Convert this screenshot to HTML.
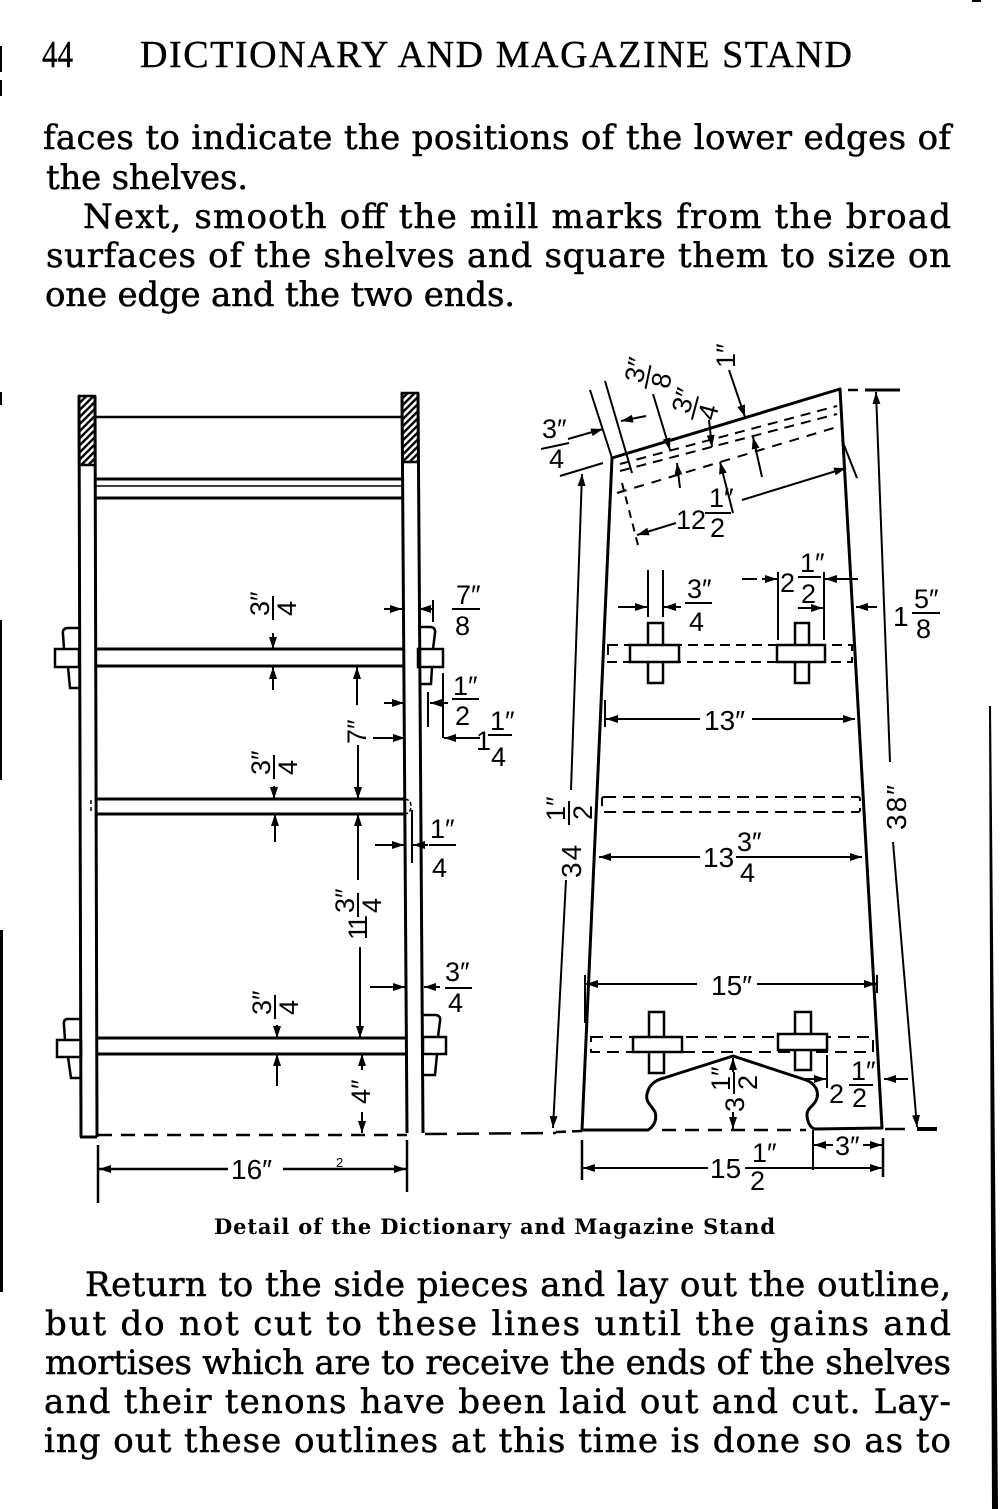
<!DOCTYPE html>
<html>
<head>
<meta charset="utf-8">
<style>
html,body{margin:0;padding:0;background:#fff;}
svg{display:block;}
.b{font-family:"DejaVu Serif","Liberation Serif",serif;font-size:34px;fill:#000;stroke:#000;stroke-width:0.5;}
.h{font-family:"Liberation Serif",serif;font-size:38px;fill:#000;stroke:#000;stroke-width:0.4;}
.c{font-family:"DejaVu Serif","Liberation Serif",serif;font-size:21px;font-weight:bold;fill:#000;}
.d{font-family:"Liberation Sans",sans-serif;font-size:27px;fill:#000;stroke:none;}
.w{font-family:"Liberation Sans",sans-serif;font-size:28px;fill:#000;stroke:none;}
</style>
</head>
<body>
<svg width="1000" height="1509" viewBox="0 0 1000 1509" xmlns="http://www.w3.org/2000/svg">
<defs>
<marker id="a" viewBox="0 0 12 8" refX="12" refY="4" markerWidth="12" markerHeight="8" markerUnits="userSpaceOnUse" orient="auto-start-reverse"><path d="M0,0 L12,4 L0,8 Z" fill="#000"/></marker>
<pattern id="hp" width="5" height="5" patternUnits="userSpaceOnUse" patternTransform="rotate(45)"><rect width="5" height="5" fill="#fff"/><rect width="2.4" height="5" fill="#000"/></pattern>
</defs>
<rect width="1000" height="1509" fill="#fff"/>

<!-- edge marks -->
<g fill="#000">
<rect x="0" y="46" width="2" height="26"/>
<rect x="0" y="80" width="2" height="16"/>
<rect x="0" y="392" width="2" height="13"/>
<rect x="0" y="620" width="2" height="160"/>
<rect x="0" y="930" width="3" height="362"/>
<rect x="972" y="0" width="9" height="2"/>
<polygon points="989,706 991,706 998,1509 992,1509"/>
</g>

<!-- header -->
<text class="h" x="42" y="67" textLength="31" lengthAdjust="spacingAndGlyphs">44</text>
<text class="h" x="140" y="67" textLength="712" lengthAdjust="spacing">DICTIONARY AND MAGAZINE STAND</text>

<!-- top body text -->
<text class="b" x="43" y="149" textLength="908" lengthAdjust="spacing">faces to indicate the positions of the lower edges of</text>
<text class="b" x="46" y="189" textLength="202" lengthAdjust="spacing">the shelves.</text>
<text class="b" x="83" y="228" textLength="868" lengthAdjust="spacing">Next, smooth off the mill marks from the broad</text>
<text class="b" x="46" y="267" textLength="905" lengthAdjust="spacing">surfaces of the shelves and square them to size on</text>
<text class="b" x="45" y="306" textLength="470" lengthAdjust="spacing">one edge and the two ends.</text>

<!-- ================= LEFT DRAWING ================= -->
<g stroke="#000" fill="none" stroke-width="3">
  <polygon points="79,396 95,396 95.2,465 79.2,465" fill="url(#hp)" stroke-width="2.5"/>
  <polygon points="402,393 418,393 418.3,462 402.3,462" fill="url(#hp)" stroke-width="2.5"/>
  <path d="M79,396 L81,1137 M95,396 L97,1137 M80,1137 L97,1137"/>
  <path d="M402,393 L407,1133 M418,393 L423,1133"/>
  <line x1="95" y1="417" x2="402" y2="417" stroke-width="2.5"/>
  <line x1="95" y1="479" x2="402" y2="479" stroke-width="3"/>
  <line x1="95" y1="486" x2="403" y2="486" stroke-width="1.5"/>
  <line x1="95" y1="498" x2="403" y2="498" stroke-width="3"/>
  <line x1="95" y1="649" x2="404" y2="649"/>
  <line x1="95" y1="666" x2="404" y2="666"/>
  <line x1="96" y1="799" x2="405" y2="799"/>
  <line x1="96" y1="814" x2="405" y2="814"/>
  <path d="M91,800 L91,814" stroke-width="1.5" stroke-dasharray="4 3"/>
  <path d="M405,799 Q411,800 411,806 Q411,813 405,814" stroke-width="1.5" stroke-dasharray="4 2"/>
  <line x1="98" y1="1038" x2="407" y2="1038"/>
  <line x1="98" y1="1054" x2="407" y2="1054"/>
  <rect x="55" y="649" width="24" height="18" stroke-width="2.5"/>
  <path d="M79,628 L67,628 Q62,629 63,634 L64,649 M68,667 L70,688 L79,688" stroke-width="2.5"/>
  <rect x="418" y="649" width="25" height="18" stroke-width="2.5"/>
  <path d="M418,627 L431,627 Q436,628 435,633 L433,649 M432,667 L431,684 L419,684" stroke-width="2.5"/>
  <rect x="57" y="1040" width="24" height="17" stroke-width="2.5"/>
  <path d="M81,1019 L67,1019 Q63,1020 64,1025 L65,1040 M68,1057 L71,1078 L81,1078" stroke-width="2.5"/>
  <rect x="423" y="1037" width="23" height="17" stroke-width="2.5"/>
  <path d="M423,1015 L436,1015 Q441,1016 440,1021 L438,1037 M437,1054 L435,1075 L424,1075" stroke-width="2.5"/>
  <line x1="98" y1="1135" x2="407" y2="1135" stroke-width="2.5" stroke-dasharray="14 9"/>
  <line x1="425" y1="1134" x2="556" y2="1133" stroke-width="2.5" stroke-dasharray="22 10"/>
  <line x1="98" y1="1145" x2="98" y2="1203" stroke-width="2.5"/>
  <line x1="407" y1="1140" x2="407" y2="1192" stroke-width="2.5"/>
  <line x1="228" y1="1169" x2="99" y2="1169" stroke-width="2.5" marker-end="url(#a)"/>
  <line x1="283" y1="1169" x2="406" y2="1169" stroke-width="2.5" marker-end="url(#a)"/>
</g>
<text class="w" x="231" y="1179">16″</text>
<text x="336" y="1167" style="font-family:'Liberation Sans',sans-serif;font-size:13px">2</text>

<g stroke="#000" fill="none" stroke-width="2">
  <line x1="273" y1="633" x2="273" y2="649" marker-end="url(#a)"/>
  <line x1="273" y1="690" x2="273" y2="667" marker-end="url(#a)"/>
  <line x1="357" y1="705" x2="357" y2="667" marker-end="url(#a)"/>
  <line x1="358" y1="745" x2="358" y2="799" marker-end="url(#a)"/>
  <line x1="274" y1="786" x2="274" y2="799" marker-end="url(#a)"/>
  <line x1="275" y1="842" x2="275" y2="814" marker-end="url(#a)"/>
  <line x1="358" y1="880" x2="358" y2="814" marker-end="url(#a)"/>
  <line x1="360" y1="947" x2="360" y2="1038" marker-end="url(#a)"/>
  <line x1="277" y1="1025" x2="277" y2="1038" marker-end="url(#a)"/>
  <line x1="277" y1="1086" x2="277" y2="1054" marker-end="url(#a)"/>
  <line x1="362" y1="1070" x2="362" y2="1054" marker-end="url(#a)"/>
  <line x1="362" y1="1112" x2="362" y2="1133" marker-end="url(#a)"/>
  <line x1="384" y1="609" x2="402" y2="609" marker-end="url(#a)"/>
  <line x1="433" y1="609" x2="419" y2="609" marker-end="url(#a)"/>
  <line x1="433" y1="600" x2="433" y2="622"/>
  <line x1="384" y1="703" x2="404" y2="703" marker-end="url(#a)"/>
  <line x1="448" y1="703" x2="430" y2="703" marker-end="url(#a)"/>
  <line x1="428" y1="692" x2="428" y2="727"/>
  <line x1="443" y1="673" x2="443" y2="738"/>
  <line x1="480" y1="738" x2="444" y2="738" marker-end="url(#a)"/>
  <line x1="373" y1="738" x2="405" y2="738" marker-end="url(#a)"/>
  <line x1="375" y1="845" x2="404" y2="845" marker-end="url(#a)"/>
  <line x1="428" y1="845" x2="413" y2="845" marker-end="url(#a)"/>
  <line x1="412" y1="810" x2="412" y2="863"/>
  <line x1="370" y1="987" x2="405" y2="987" marker-end="url(#a)"/>
  <line x1="440" y1="987" x2="424" y2="987" marker-end="url(#a)"/>
  <line x1="452" y1="609" x2="480" y2="609"/>
  <line x1="452" y1="699" x2="479" y2="699"/>
  <line x1="488" y1="735" x2="512" y2="735"/>
  <line x1="429" y1="845" x2="456" y2="845"/>
  <line x1="445" y1="988" x2="472" y2="988"/>
</g>

<text class="d" x="456" y="604">7″</text><text class="d" x="455" y="635">8</text>
<text class="d" x="453" y="695">1″</text><text class="d" x="455" y="725">2</text>
<text class="d" x="476" y="750">1</text>
<text class="d" x="490" y="730">1″</text><text class="d" x="491" y="766">4</text>
<text class="d" x="430" y="838">1″</text><text class="d" x="432" y="877">4</text>
<text class="d" x="445" y="981">3″</text><text class="d" x="448" y="1012">4</text>

<g transform="translate(273,608) rotate(-90)">
  <text class="d" x="-8" y="-4">3″</text><line x1="-12" y1="0" x2="12" y2="0" stroke="#000" stroke-width="2"/><text class="d" x="-8" y="23">4</text>
</g>
<g transform="translate(274,767) rotate(-90)">
  <text class="d" x="-8" y="-4">3″</text><line x1="-12" y1="0" x2="12" y2="0" stroke="#000" stroke-width="2"/><text class="d" x="-8" y="23">4</text>
</g>
<g transform="translate(275,1007) rotate(-90)">
  <text class="d" x="-8" y="-4">3″</text><line x1="-12" y1="0" x2="12" y2="0" stroke="#000" stroke-width="2"/><text class="d" x="-8" y="23">4</text>
</g>
<g transform="translate(357,744) rotate(-90)">
  <text class="d" x="0" y="9">7″</text>
</g>
<g transform="translate(358,940) rotate(-90)">
  <text class="d" x="0" y="9" letter-spacing="-3">11</text>
  <text class="d" x="27" y="-4">3″</text><line x1="23" y1="0" x2="47" y2="0" stroke="#000" stroke-width="2"/><text class="d" x="27" y="23">4</text>
</g>
<g transform="translate(361,1104) rotate(-90)">
  <text class="d" x="0" y="9">4″</text>
</g>

<!-- ================= RIGHT DRAWING ================= -->
<g stroke="#000" fill="none" stroke-width="3">
  <path d="M612,458 L582,1130 L648,1130 C655,1126 657,1118 655,1112 C652,1106 645,1102 647,1094 C649,1084 656,1080 664,1078 L733,1056 L806,1080 C814,1083 819,1090 817,1098 C815,1106 806,1108 807,1116 C808,1124 811,1128 815,1129 L882,1128 L840,389 Z" stroke-linejoin="round"/>
  <line x1="620" y1="464" x2="837" y2="406" stroke-width="2" stroke-dasharray="10 7"/>
  <line x1="620" y1="471" x2="837" y2="414" stroke-width="2" stroke-dasharray="10 7"/>
  <line x1="617" y1="493" x2="837" y2="427" stroke-width="2" stroke-dasharray="10 8"/>
  <rect x="608" y="645" width="244" height="17" stroke-width="2" stroke-dasharray="10 6"/>
  <rect x="648" y="623" width="15" height="60" fill="#fff" stroke-width="2.5"/>
  <rect x="630" y="645" width="49" height="17" fill="#fff" stroke-width="2.5"/>
  <rect x="795" y="623" width="14" height="60" fill="#fff" stroke-width="2.5"/>
  <rect x="777" y="645" width="48" height="17" fill="#fff" stroke-width="2.5"/>
  <rect x="602" y="797" width="258" height="15" rx="2" stroke-width="2" stroke-dasharray="12 7"/>
  <rect x="591" y="1037" width="282" height="15" stroke-width="2" stroke-dasharray="12 7"/>
  <rect x="649" y="1012" width="15" height="61" fill="#fff" stroke-width="2.5"/>
  <rect x="633" y="1037" width="49" height="15" fill="#fff" stroke-width="2.5"/>
  <rect x="795" y="1012" width="16" height="58" fill="#fff" stroke-width="2.5"/>
  <rect x="778" y="1034" width="49" height="16" fill="#fff" stroke-width="2.5"/>
  <line x1="556" y1="1132" x2="582" y2="1131" stroke-width="2.5" stroke-dasharray="10 6"/>
  <line x1="662" y1="1130" x2="806" y2="1130" stroke-width="2.5" stroke-dasharray="14 9"/>
  <line x1="885" y1="1129" x2="905" y2="1129" stroke-width="2.5"/>
  <line x1="917" y1="1129" x2="937" y2="1129" stroke-width="4"/>
</g>

<g stroke="#000" fill="none" stroke-width="2">
  <line x1="590" y1="390" x2="612" y2="458"/>
  <line x1="605" y1="381" x2="632" y2="473"/>
  <line x1="560" y1="476" x2="603" y2="463"/>
  <line x1="568" y1="439" x2="603" y2="429" marker-end="url(#a)"/>
  <line x1="541" y1="449" x2="569" y2="443"/>
  <line x1="646" y1="416" x2="621" y2="421" marker-end="url(#a)"/>
  <line x1="653" y1="394" x2="670" y2="450" marker-end="url(#a)"/>
  <line x1="729" y1="370" x2="745" y2="417" marker-end="url(#a)"/>
  <line x1="709" y1="420" x2="712" y2="447" marker-end="url(#a)"/>
  <line x1="680" y1="488" x2="677" y2="463" marker-end="url(#a)"/>
  <line x1="733" y1="513" x2="720" y2="462" marker-end="url(#a)"/>
  <line x1="762" y1="477" x2="753" y2="437" marker-end="url(#a)"/>
  <line x1="622" y1="483" x2="638" y2="545" stroke-dasharray="8 6"/>
  <line x1="676" y1="523" x2="637" y2="535" marker-end="url(#a)"/>
  <line x1="742" y1="500" x2="846" y2="468" marker-end="url(#a)"/>
  <line x1="842" y1="440" x2="857" y2="478"/>
  <line x1="705" y1="513" x2="731" y2="513"/>
  <line x1="571" y1="790" x2="582" y2="474" marker-end="url(#a)"/>
  <line x1="566" y1="880" x2="553" y2="1128" marker-end="url(#a)"/>
  <line x1="890" y1="762" x2="876" y2="392" marker-end="url(#a)"/>
  <line x1="893" y1="842" x2="917" y2="1127" marker-end="url(#a)"/>
  <line x1="865" y1="390" x2="900" y2="390" stroke-width="3"/>
  <line x1="848" y1="390" x2="858" y2="390" stroke-width="2.5"/>
  <line x1="648" y1="570" x2="648" y2="617"/>
  <line x1="663" y1="570" x2="663" y2="617"/>
  <line x1="618" y1="607" x2="647" y2="607" marker-end="url(#a)"/>
  <line x1="681" y1="607" x2="664" y2="607" marker-end="url(#a)"/>
  <line x1="685" y1="603" x2="712" y2="603"/>
  <line x1="778" y1="572" x2="778" y2="640"/>
  <line x1="824" y1="572" x2="824" y2="640"/>
  <line x1="742" y1="579" x2="757" y2="579"/>
  <line x1="762" y1="579" x2="777" y2="579" marker-end="url(#a)"/>
  <line x1="858" y1="579" x2="825" y2="579" marker-end="url(#a)"/>
  <line x1="798" y1="608" x2="823" y2="608" marker-end="url(#a)"/>
  <line x1="798" y1="577" x2="821" y2="577"/>
  <line x1="877" y1="607" x2="856" y2="607" marker-end="url(#a)"/>
  <line x1="912" y1="613" x2="940" y2="613"/>
  <line x1="605" y1="700" x2="605" y2="727"/>
  <line x1="700" y1="719" x2="606" y2="719" marker-end="url(#a)"/>
  <line x1="752" y1="719" x2="855" y2="719" marker-end="url(#a)"/>
  <line x1="700" y1="857" x2="599" y2="857" marker-end="url(#a)"/>
  <line x1="736" y1="857" x2="862" y2="857" marker-end="url(#a)"/>
  <line x1="585" y1="975" x2="585" y2="1023"/>
  <line x1="877" y1="975" x2="877" y2="993"/>
  <line x1="697" y1="984" x2="586" y2="984" marker-end="url(#a)"/>
  <line x1="757" y1="984" x2="876" y2="984" marker-end="url(#a)"/>
  <line x1="733" y1="1072" x2="733" y2="1058" marker-end="url(#a)"/>
  <line x1="733" y1="1112" x2="733" y2="1129" marker-end="url(#a)"/>
  <line x1="827" y1="1055" x2="827" y2="1088"/>
  <line x1="805" y1="1079" x2="826" y2="1079" marker-end="url(#a)"/>
  <line x1="908" y1="1079" x2="884" y2="1079" marker-end="url(#a)"/>
  <line x1="849" y1="1085" x2="873" y2="1085"/>
  <line x1="582" y1="1140" x2="582" y2="1180" stroke-width="2.5"/>
  <line x1="883" y1="1138" x2="883" y2="1177" stroke-width="2.5"/>
  <line x1="708" y1="1168" x2="583" y2="1168" marker-end="url(#a)"/>
  <line x1="745" y1="1168" x2="882" y2="1168" marker-end="url(#a)"/>
  <line x1="813" y1="1130" x2="813" y2="1170"/>
  <line x1="833" y1="1145" x2="814" y2="1145" marker-end="url(#a)"/>
  <line x1="863" y1="1145" x2="882" y2="1145" marker-end="url(#a)"/>
</g>

<text class="d" x="542" y="438">3″</text><text class="d" x="549" y="468">4</text>
<g transform="translate(648,377) rotate(-78)">
  <text class="d" x="-8" y="-4">3″</text><line x1="-12" y1="0" x2="12" y2="0" stroke="#000" stroke-width="2"/><text class="d" x="-8" y="23">8</text>
</g>
<g transform="translate(695,408) rotate(-75)">
  <text class="d" x="-8" y="-4">3″</text><line x1="-12" y1="0" x2="12" y2="0" stroke="#000" stroke-width="2"/><text class="d" x="-8" y="23">4</text>
</g>
<g transform="translate(726,368) rotate(-90)">
  <text class="d" x="0" y="9">1″</text>
</g>
<text class="d" x="676" y="529">12</text>
<text class="d" x="709" y="507">1″</text><text class="d" x="710" y="537">2</text>
<text class="d" x="687" y="598">3″</text><text class="d" x="689" y="631">4</text>
<text class="d" x="780" y="592">2</text>
<text class="d" x="800" y="572">1″</text><text class="d" x="801" y="603">2</text>
<text class="w" x="893" y="626">1</text>
<text class="d" x="914" y="608">5″</text><text class="d" x="916" y="638">8</text>
<text class="w" x="704" y="730">13″</text>
<text class="w" x="703" y="867">13</text>
<text class="d" x="737" y="851">3″</text><text class="d" x="740" y="882">4</text>
<text class="w" x="711" y="995">15″</text>
<g transform="translate(736,1112) rotate(-90)">
  <text class="d" x="0" y="8">3</text>
  <text class="d" x="21" y="-6">1″</text><line x1="18" y1="-2" x2="40" y2="-2" stroke="#000" stroke-width="2"/><text class="d" x="22" y="21">2</text>
</g>
<text class="d" x="829" y="1103">2</text>
<text class="d" x="851" y="1080">1″</text><text class="d" x="852" y="1107">2</text>
<text class="w" x="710" y="1178">15</text>
<text class="d" x="752" y="1162">1″</text><text class="d" x="750" y="1190">2</text>
<text class="d" x="835" y="1155">3″</text>
<g transform="translate(896,830) rotate(-90)">
  <text class="w" x="0" y="10" letter-spacing="2">38″</text>
</g>
<g transform="translate(571,878) rotate(-90)">
  <text class="w" x="0" y="10" letter-spacing="2">34</text>
  <text class="d" x="57" y="-6">1″</text><line x1="53" y1="-2" x2="77" y2="-2" stroke="#000" stroke-width="2"/><text class="d" x="58" y="21">2</text>
</g>

<!-- caption -->
<text class="c" x="214" y="1234" textLength="561" lengthAdjust="spacing">Detail of the Dictionary and Magazine Stand</text>

<!-- bottom body text -->
<text class="b" x="85" y="1296" textLength="866" lengthAdjust="spacing">Return to the side pieces and lay out the outline,</text>
<text class="b" x="45" y="1335" textLength="906" lengthAdjust="spacing">but do not cut to these lines until the gains and</text>
<text class="b" x="45" y="1374" textLength="906" lengthAdjust="spacing">mortises which are to receive the ends of the shelves</text>
<text class="b" x="44" y="1413" textLength="907" lengthAdjust="spacing">and their tenons have been laid out and cut.  Lay-</text>
<text class="b" x="44" y="1452" textLength="907" lengthAdjust="spacing">ing out these outlines at this time is done so as to</text>
</svg>
</body>
</html>
